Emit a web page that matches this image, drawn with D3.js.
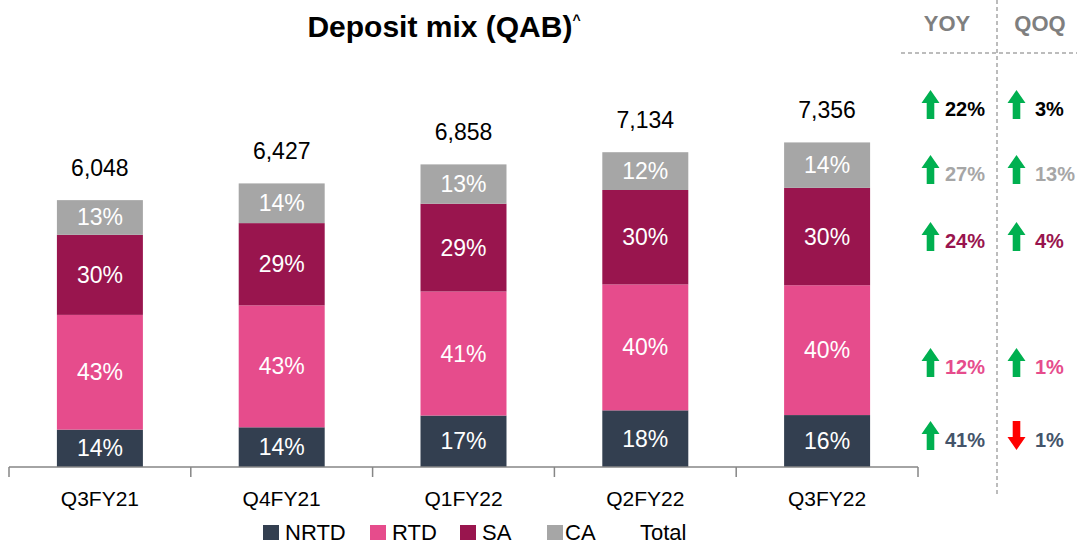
<!DOCTYPE html>
<html>
<head>
<meta charset="utf-8">
<script src="https://cdn.jsdelivr.net/npm/d3@7"></script>
<style>
  body { margin: 0; background: #fff; }
  svg { display: block; font-family: "Liberation Sans", Arial, sans-serif; }
</style>
</head>
<body>
<div id="chart"></div>
<script>
// data
const quarters = ['Q3FY21', 'Q4FY21', 'Q1FY22', 'Q2FY22', 'Q3FY22'];
const totals = [6048, 6427, 6858, 7134, 7356];
const nrtdPct = [14, 14, 17, 18, 16];
const rtdPct = [43, 43, 41, 40, 40];
const saPct = [30, 29, 29, 30, 30];
const caPct = [13, 14, 13, 12, 14];

const seriesNames = ['NRTD', 'RTD', 'SA', 'CA'];
const legendNames = ['NRTD', 'RTD', 'SA', 'CA', 'Total'];

// growth panel, rows top to bottom
const growthRows = ['Total', 'CA', 'SA', 'RTD', 'NRTD'];
const yoy = [22, 27, 24, 12, 41];
const qoq = [3, 13, 4, 1, -1];

const colors = {
  NRTD: '#333f50',
  RTD: '#e64c8c',
  SA: '#99154e',
  CA: '#a6a6a6',
  Total: '#000000'
};
const rowText = {
  Total: '#000000',
  CA: '#a6a6a6',
  SA: '#99154e',
  RTD: '#e64c8c',
  NRTD: '#44546a'
};

const width = 1077, height = 545;
const svg = d3.select('#chart').append('svg')
  .attr('width', width)
  .attr('height', height);

const pctBySeries = { NRTD: nrtdPct, RTD: rtdPct, SA: saPct, CA: caPct };
const rows = quarters.map((q, i) => {
  const r = { quarter: q, total: totals[i] };
  seriesNames.forEach(s => { r[s] = totals[i] * pctBySeries[s][i] / 100; });
  return r;
});

const x = d3.scaleBand().domain(quarters).range([9, 918]).padding(0);
const barW = x.bandwidth() * 0.473;
const y = d3.scaleLinear().domain([0, 8000]).range([467, 114]);

const stacked = d3.stack().keys(seriesNames)(rows);

// bars
const layers = svg.append('g')
  .selectAll('g')
  .data(stacked)
  .enter()
  .append('g')
  .attr('fill', d => colors[d.key]);

layers.selectAll('rect')
  .data(d => d.map(p => ({ key: d.key, p })))
  .enter()
  .append('rect')
  .attr('x', d => x(d.p.data.quarter) + (x.bandwidth() - barW) / 2)
  .attr('y', d => y(d.p[1]))
  .attr('width', barW)
  .attr('height', d => y(d.p[0]) - y(d.p[1]));

// segment labels
layers.selectAll('text')
  .data(d => d.map((p, i) => ({ key: d.key, p, i })))
  .enter()
  .append('text')
  .attr('x', d => x(d.p.data.quarter) + x.bandwidth() / 2)
  .attr('y', d => (y(d.p[0]) + y(d.p[1])) / 2 + 8)
  .attr('text-anchor', 'middle')
  .attr('fill', '#fff')
  .attr('font-size', 23)
  .text(d => pctBySeries[d.key][d.i] + '%');

// totals
svg.append('g')
  .selectAll('text')
  .data(rows)
  .enter()
  .append('text')
  .attr('x', d => x(d.quarter) + x.bandwidth() / 2)
  .attr('y', d => y(d.total) - 24)
  .attr('text-anchor', 'middle')
  .attr('font-size', 23)
  .attr('fill', '#000')
  .text(d => d3.format(',')(d.total));

// x axis: labels from d3.axisBottom, ticks on band edges
const axisG = svg.append('g')
  .attr('transform', `translate(0,${y(0)})`)
  .call(d3.axisBottom(x).tickSize(0).tickPadding(24));
axisG.select('.domain').attr('stroke', '#868686').attr('stroke-width', 1.5)
  .attr('d', `M${x.range()[0]},0H${x.range()[1]}`);
axisG.selectAll('.tick text')
  .attr('font-size', 21)
  .attr('font-family', '"Liberation Sans", Arial, sans-serif')
  .attr('fill', '#000');
const edges = quarters.map(q => x(q)).concat([x.range()[1]]);
axisG.selectAll('line.edge')
  .data(edges)
  .enter()
  .append('line')
  .attr('class', 'edge')
  .attr('x1', d => d).attr('x2', d => d)
  .attr('y1', 0).attr('y2', 10)
  .attr('stroke', '#868686')
  .attr('stroke-width', 1.5);

// legend
const legend = svg.append('g').attr('transform', 'translate(263,540)');
const legendX = [0, 107, 197, 284, 377];
const legendGap = [22, 22, 22, 18, 0];
legendNames.forEach((name, i) => {
  const g = legend.append('g').attr('transform', `translate(${legendX[i]},0)`);
  if (name !== 'Total') {
    g.append('rect').attr('x', 0).attr('y', -15).attr('width', 16).attr('height', 15)
      .attr('fill', colors[name]);
  }
  g.append('text')
    .attr('x', legendGap[i])
    .attr('y', 0)
    .attr('font-size', 22)
    .attr('fill', '#000')
    .text(name);
});

// title
const title = svg.append('text')
  .attr('x', 444)
  .attr('y', 37)
  .attr('text-anchor', 'middle')
  .attr('font-size', 30)
  .attr('font-weight', 'bold')
  .attr('fill', '#000');
title.append('tspan').text('Deposit mix (QAB)');
title.append('tspan').attr('font-size', 14).attr('dy', -12).text('^');

// growth panel
const panel = svg.append('g');
panel.append('line')
  .attr('x1', 901).attr('x2', 1077).attr('y1', 53).attr('y2', 53)
  .attr('stroke', '#a6a6a6').attr('stroke-width', 1.5).attr('stroke-dasharray', '4,3');
panel.append('line')
  .attr('x1', 997).attr('x2', 997).attr('y1', 0).attr('y2', 497)
  .attr('stroke', '#a6a6a6').attr('stroke-width', 1.5).attr('stroke-dasharray', '4,3');
[['YOY', 947], ['QOQ', 1040]].forEach(([t, cx]) => {
  panel.append('text')
    .attr('x', cx).attr('y', 31)
    .attr('text-anchor', 'middle')
    .attr('font-size', 22)
    .attr('font-weight', 'bold')
    .attr('fill', '#7f7f7f')
    .text(t);
});

const rowY = [108, 173, 240, 366, 439];
const upArrow = 'M0,-14.5L9,-1.5L3.8,-1.5L3.8,14.5L-3.8,14.5L-3.8,-1.5L-9,-1.5Z';
const downArrow = 'M0,14.5L9,1.5L3.8,1.5L3.8,-14.5L-3.8,-14.5L-3.8,1.5L-9,1.5Z';

function growthCol(vals, arrowX, textX) {
  const g = panel.append('g')
    .selectAll('g')
    .data(growthRows.map((r, i) => ({ r, v: vals[i], yy: rowY[i] })))
    .enter()
    .append('g')
    .attr('transform', d => `translate(0,${d.yy})`);
  g.append('path')
    .attr('transform', `translate(${arrowX},-3.5)`)
    .attr('d', d => d.v >= 0 ? upArrow : downArrow)
    .attr('fill', d => d.v >= 0 ? '#00b050' : '#ff0000');
  g.append('text')
    .attr('x', textX)
    .attr('y', 7.5)
    .attr('font-size', 20)
    .attr('font-weight', 'bold')
    .attr('fill', d => rowText[d.r])
    .text(d => Math.abs(d.v) + '%');
}
growthCol(yoy, 930.5, 945);
growthCol(qoq, 1016.5, 1035);
</script>
</body>
</html>
